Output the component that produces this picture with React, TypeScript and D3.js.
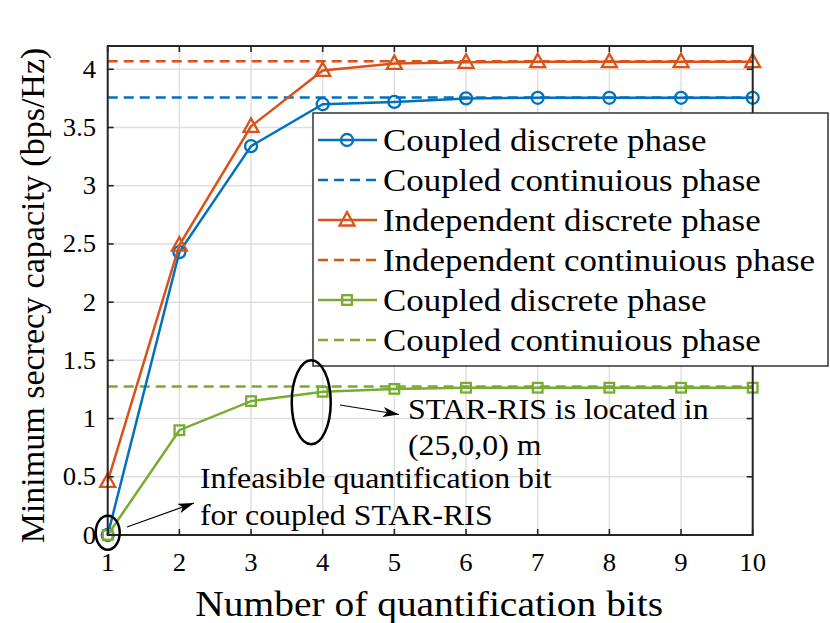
import React from 'react';
import * as d3 from 'd3';

// x values: number of quantification bits
const bits = [1, 2, 3, 4, 5, 6, 7, 8, 9, 10];

// series
const coupledDiscrete = [0, 2.43, 3.34, 3.7, 3.72, 3.75, 3.755, 3.755, 3.755, 3.755];
const independentDiscrete = [0.46, 2.49, 3.51, 3.99, 4.05, 4.06, 4.065, 4.065, 4.065, 4.065];
const coupledDiscreteFar = [0, 0.9, 1.15, 1.23, 1.255, 1.265, 1.265, 1.265, 1.265, 1.265];

// continuous-phase upper bounds (dashed)
const coupledContinuous = 3.757;
const independentContinuous = 4.068;
const coupledContinuousFar = 1.275;

const yTicks = [0, 0.5, 1, 1.5, 2, 2.5, 3, 3.5, 4];
const yTickLabels = ['0', '0.5', '1', '1.5', '2', '2.5', '3', '3.5', '4'];

const legendLabels = [
  'Coupled discrete phase',
  'Coupled continuious phase',
  'Independent discrete phase',
  'Independent continuious phase',
  'Coupled discrete phase',
  'Coupled continuious phase',
];

const BLUE = '#0072BD';
const ORANGE = '#D95319';
const GREEN = '#77AC30';
const AXIS = '#262626';
const FONT = '"Liberation Serif", "Times New Roman", serif';
const SX = 1.09; // the figure is slightly stretched horizontally

const W = 830;
const H = 623;
const left = 107.7;
const right = 752.7;
const top = 46;
const bottom = 535;

const x = d3.scaleLinear().domain([1, 10]).range([left, right]);
const y = d3.scaleLinear().domain([0, 4.2]).range([bottom, top]);

const line = d3
  .line<number>()
  .x((_, i) => x(bits[i]))
  .y(d => y(d));

type Shape = 'circle' | 'triangle' | 'square';

const Marker = ({ cx, cy, shape, color }: { cx: number; cy: number; shape: Shape; color: string }) => {
  if (shape === 'circle')
    return <circle cx={cx} cy={cy} r={6} fill="none" stroke={color} strokeWidth={2.3} />;
  if (shape === 'triangle')
    return (
      <path
        d={`M${cx},${cy - 8} L${cx + 7.5},${cy + 5.5} L${cx - 7.5},${cy + 5.5} Z`}
        fill="none"
        stroke={color}
        strokeWidth={2.3}
      />
    );
  return <rect x={cx - 4.8} y={cy - 4.8} width={9.6} height={9.6} fill="none" stroke={color} strokeWidth={2.3} />;
};

const T = ({
  x0,
  y0,
  size,
  anchor = 'start',
  children,
}: {
  x0: number;
  y0: number;
  size: number;
  anchor?: string;
  children: React.ReactNode;
}) => (
  <text
    transform={`translate(${x0},${y0}) scale(${SX},1)`}
    fontSize={size}
    fontFamily={FONT}
    textAnchor={anchor}
    fill="#000"
  >
    {children}
  </text>
);

const series = [
  { values: coupledDiscrete, color: BLUE, shape: 'circle' as Shape },
  { values: independentDiscrete, color: ORANGE, shape: 'triangle' as Shape },
  { values: coupledDiscreteFar, color: GREEN, shape: 'square' as Shape },
];

const bounds = [
  { value: coupledContinuous, color: BLUE },
  { value: independentContinuous, color: ORANGE },
  { value: coupledContinuousFar, color: GREEN },
];

const legendItems: { color: string; dashed: boolean; shape?: Shape }[] = [
  { color: BLUE, dashed: false, shape: 'circle' },
  { color: BLUE, dashed: true },
  { color: ORANGE, dashed: false, shape: 'triangle' },
  { color: ORANGE, dashed: true },
  { color: GREEN, dashed: false, shape: 'square' },
  { color: GREEN, dashed: true },
];

export default function App() {
  const tickLen = 6;
  const legX = 313;
  const legY = 113;
  const legW = 515;
  const legH = 253;
  const rowH = 40;

  return (
    <svg
      width={W}
      height={H}
      style={{ position: 'absolute', left: 0, top: 0, background: '#fff' }}
    >
      <defs>
        <marker id="arr" viewBox="0 0 16 10" refX="16" refY="5" markerWidth="16" markerHeight="10" markerUnits="userSpaceOnUse" orient="auto">
          <path d="M0,0 L16,5 L0,10 L4,5 Z" fill="#000" />
        </marker>
      </defs>
      <rect x={0} y={0} width={W} height={H} fill="#fff" />

      {/* grid */}
      <g stroke="#dfdfdf" strokeWidth={1.5}>
        {bits.map(b => (
          <line key={'gx' + b} x1={x(b)} x2={x(b)} y1={top} y2={bottom} />
        ))}
        {yTicks.map(t => (
          <line key={'gy' + t} x1={left} x2={right} y1={y(t)} y2={y(t)} />
        ))}
      </g>

      {/* dashed continuous bounds */}
      {bounds.map((b, i) => (
        <line
          key={'b' + i}
          x1={x(1)}
          x2={x(10)}
          y1={y(b.value)}
          y2={y(b.value)}
          stroke={b.color}
          strokeWidth={2.5}
          strokeDasharray="10,6"
        />
      ))}

      {/* discrete series */}
      {series.map((s, i) => (
        <g key={'s' + i}>
          <path d={line(s.values) || ''} fill="none" stroke={s.color} strokeWidth={2.5} />
          {s.values.map((v, j) => (
            <Marker key={j} cx={x(bits[j])} cy={y(v)} shape={s.shape} color={s.color} />
          ))}
        </g>
      ))}

      {/* axes box and ticks */}
      <rect x={left} y={top} width={right - left} height={bottom - top} fill="none" stroke={AXIS} strokeWidth={2} />
      <g stroke={AXIS} strokeWidth={1.6}>
        {bits.map(b => (
          <g key={'tx' + b}>
            <line x1={x(b)} x2={x(b)} y1={bottom} y2={bottom - tickLen} />
            <line x1={x(b)} x2={x(b)} y1={top} y2={top + tickLen} />
          </g>
        ))}
        {yTicks.map(t => (
          <g key={'ty' + t}>
            <line x1={left} x2={left + tickLen} y1={y(t)} y2={y(t)} />
            <line x1={right} x2={right - tickLen} y1={y(t)} y2={y(t)} />
          </g>
        ))}
      </g>
      {bits.map(b => (
        <T key={'lx' + b} x0={x(b)} y0={571} size={24.5} anchor="middle">
          {b}
        </T>
      ))}
      {yTicks.map((t, i) => (
        <T key={'ly' + t} x0={left - 11.5} y0={y(t) + 8.5} size={24.5} anchor="end">
          {yTickLabels[i]}
        </T>
      ))}

      <T x0={(left + right) / 2 - 1} y0={616} size={36.2} anchor="middle">
        Number of quantification bits
      </T>
      <text
        transform={`translate(44,${(top + bottom) / 2 + 5}) rotate(-90)`}
        fontSize={34}
        fontFamily={FONT}
        textAnchor="middle"
      >
        Minimum secrecy capacity (bps/Hz)
      </text>

      {/* legend */}
      <rect x={legX} y={legY} width={legW} height={legH} fill="#fff" stroke={AXIS} strokeWidth={1.4} />
      {legendItems.map((it, i) => {
        const cy = legY + 27 + i * rowH;
        return (
          <g key={'lg' + i}>
            <line
              x1={legX + 5}
              x2={legX + 64}
              y1={cy}
              y2={cy}
              stroke={it.color}
              strokeWidth={2.5}
              strokeDasharray={it.dashed ? '10,6' : undefined}
            />
            {it.shape && <Marker cx={legX + 34} cy={cy} shape={it.shape} color={it.color} />}
            <T x0={legX + 70} y0={cy + 11} size={32}>
              {legendLabels[i]}
            </T>
          </g>
        );
      })}

      {/* annotations */}
      <ellipse cx={x(1)} cy={y(0.02)} rx={12} ry={17} fill="none" stroke="#000" strokeWidth={2.5} />
      <ellipse cx={x(3.84)} cy={y(1.14)} rx={19.5} ry={42} fill="none" stroke="#000" strokeWidth={2.5} />
      <line x1={127} y1={527} x2={194} y2={503} stroke="#000" strokeWidth={1.2} markerEnd="url(#arr)" />
      <line x1={340} y1={405} x2={399} y2={414.5} stroke="#000" strokeWidth={1.2} markerEnd="url(#arr)" />
      <T x0={408} y0={419} size={29.2}>STAR-RIS is located in</T>
      <T x0={408} y0={455} size={29.2}>(25,0,0) m</T>
      <T x0={200} y0={488} size={29.2}>Infeasible quantification bit</T>
      <T x0={200} y0={525} size={29.2}>for coupled STAR-RIS</T>
    </svg>
  );
}
